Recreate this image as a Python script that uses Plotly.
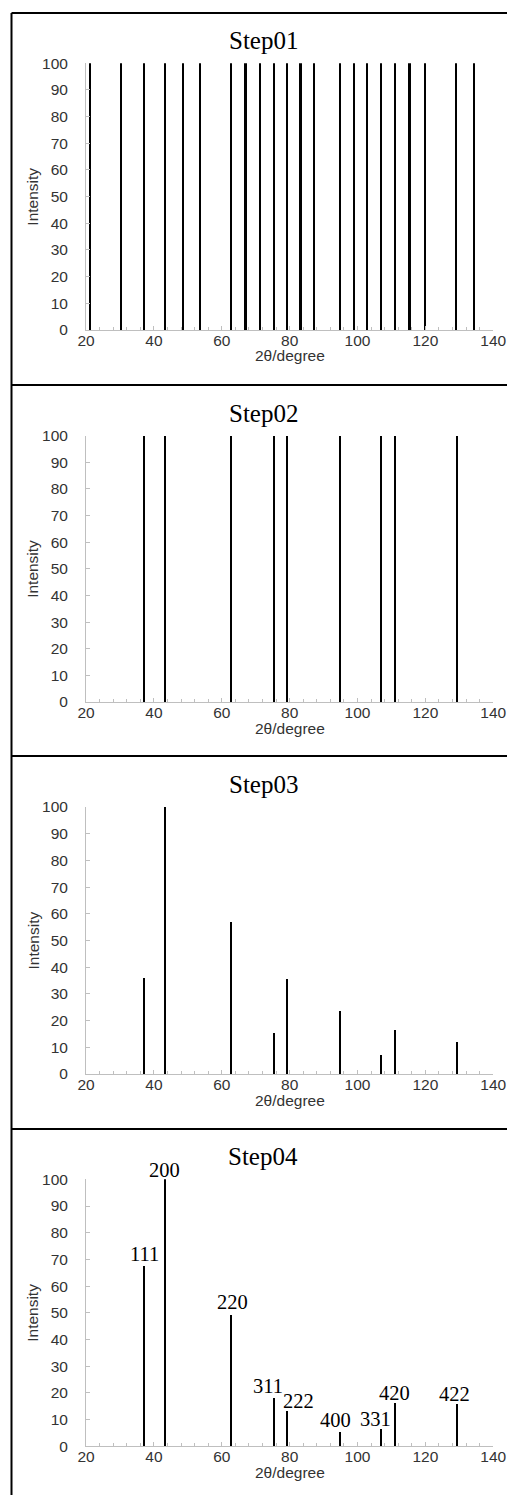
import plotly.graph_objects as go

# ---------------- data ----------------
titles = ["Step01", "Step02", "Step03", "Step04"]

step01_x = [21.2, 30.2, 37.2, 43.3, 48.6, 53.6, 62.8, 67.0, 71.2, 75.3, 79.3,
            83.2, 87.1, 94.9, 98.9, 102.9, 106.9, 111.1, 115.3, 119.8, 129.1, 134.3]
step01_y = [100] * len(step01_x)

peak_x = [37.2, 43.2, 62.8, 75.3, 79.3, 94.9, 106.9, 111.0, 129.2]
step02_y = [100] * len(peak_x)
step03_y = [36.0, 100, 56.9, 15.2, 35.7, 23.7, 7.0, 16.5, 11.9]
step04_y = [67.4, 100, 49.1, 18.1, 13.0, 5.4, 6.5, 16.2, 15.9]
hkl_labels = ["111", "200", "220", "311", "222", "400", "331", "420", "422"]

x_range = [20, 140]
y_range = [0, 100]
x_tickvals = [20, 40, 60, 80, 100, 120, 140]
y_tickvals = [0, 10, 20, 30, 40, 50, 60, 70, 80, 90, 100]
x_title = "2θ/degree"
y_title = "Intensity"

series = [(step01_x, step01_y), (peak_x, step02_y), (peak_x, step03_y), (peak_x, step04_y)]

# ---------------- layout (pixels) ----------------
W, H = 507, 1495
plot_left, plot_right = 86, 493.3
plot_tops = [63.3, 435.7, 807.0, 1179.3]
plot_bottoms = [330.0, 702.0, 1074.0, 1446.3]
border_left = 11.5
border_top = 13
separators = [385, 756, 1129]
title_cx = 263

# label offsets (pixels) relative to bar tops for Step04
label_shift = [(0, 12), (0, 9), (1.5, 13), (-5.5, 12), (11, 11), (-4.5, 12), (-5.5, 10), (-0.5, 10.5), (-2.5, 10)]

SANS = "Liberation Sans, Arial, sans-serif"
SERIF = "Liberation Serif, Times New Roman, serif"
AXIS_GRAY = "#bfbfbf"
TEXT_DARK = "#333333"

def px(x):
    return x / W

def py(y):
    return 1 - y / H

fig = go.Figure()
annotations = []

for i, (xs, ys) in enumerate(series):
    n = i + 1
    xa = "x" if n == 1 else f"x{n}"
    ya = "y" if n == 1 else f"y{n}"
    fig.add_trace(go.Bar(x=xs, y=ys, width=0.62, marker=dict(color="black", line=dict(width=0)),
                         xaxis=xa, yaxis=ya, showlegend=False, hoverinfo="x+y"))

    xkey = "xaxis" if n == 1 else f"xaxis{n}"
    ykey = "yaxis" if n == 1 else f"yaxis{n}"
    fig.layout[xkey] = dict(
        domain=[px(plot_left), px(plot_right)], anchor=ya, range=x_range, automargin=False,
        showline=True, linecolor=AXIS_GRAY, linewidth=1, showgrid=False, zeroline=False,
        tickvals=x_tickvals, ticks="inside", ticklen=4, tickcolor=AXIS_GRAY, tickwidth=1,
        minor=dict(dtick=4, tick0=20, ticks="inside", ticklen=3, tickcolor=AXIS_GRAY, showgrid=False),
        tickfont=dict(family=SANS, size=15.5, color=TEXT_DARK), ticklabelstandoff=-4,
    )
    fig.layout[ykey] = dict(
        domain=[py(plot_bottoms[i]), py(plot_tops[i])], anchor=xa, range=y_range, automargin=False,
        showline=True, linecolor=AXIS_GRAY, linewidth=1, showgrid=False, zeroline=False,
        tickvals=y_tickvals, ticks="inside", ticklen=4, tickcolor=AXIS_GRAY, tickwidth=1,
        tickfont=dict(family=SANS, size=15.5, color=TEXT_DARK), ticklabelstandoff=14,
    )

    xd = f"{xa} domain"
    yd = f"{ya} domain"
    annotations.append(dict(text=titles[i], xref="paper", x=px(title_cx), yref=yd, y=1,
                            yshift=22.5, xanchor="center", yanchor="middle", showarrow=False,
                            font=dict(family=SERIF, size=25, color="black")))
    annotations.append(dict(text=x_title, xref=xd, x=0.5, yref=yd, y=0, yshift=-26,
                            xanchor="center", yanchor="middle", showarrow=False,
                            font=dict(family=SANS, size=15.5, color=TEXT_DARK)))
    annotations.append(dict(text=y_title, xref=xd, x=0, xshift=-53, yref=yd, y=0.5,
                            xanchor="center", yanchor="middle", textangle=-90, showarrow=False,
                            font=dict(family=SANS, size=15.5, color=TEXT_DARK)))

for lab, x, y, (dx, dy) in zip(hkl_labels, peak_x, step04_y, label_shift):
    annotations.append(dict(text=lab, xref="x4", yref="y4", x=x, y=y, xshift=dx, yshift=dy,
                            xanchor="center", yanchor="middle", showarrow=False,
                            font=dict(family=SERIF, size=20.5, color="black")))

shapes = []
line_style = dict(color="black", width=2)
shapes.append(dict(type="line", xref="paper", yref="paper", x0=px(border_left), x1=1.01,
                   y0=py(border_top), y1=py(border_top), line=line_style))
shapes.append(dict(type="line", xref="paper", yref="paper", x0=px(border_left), x1=px(border_left),
                   y0=py(border_top), y1=-0.01, line=line_style))
for s in separators:
    shapes.append(dict(type="line", xref="paper", yref="paper", x0=px(border_left), x1=1.01,
                       y0=py(s), y1=py(s), line=line_style))

fig.update_layout(
    template="none",
    width=W, height=H, margin=dict(l=0, r=0, t=0, b=0, pad=0), autosize=False,
    paper_bgcolor="white", plot_bgcolor="white",
    annotations=annotations, shapes=shapes, bargap=0, showlegend=False,
)

fig.write_html(
    "out.html",
    config={"displayModeBar": False},
    post_script="document.body.style.margin='0';document.body.style.padding='0';"
                "document.documentElement.style.overflow='hidden';",
)
